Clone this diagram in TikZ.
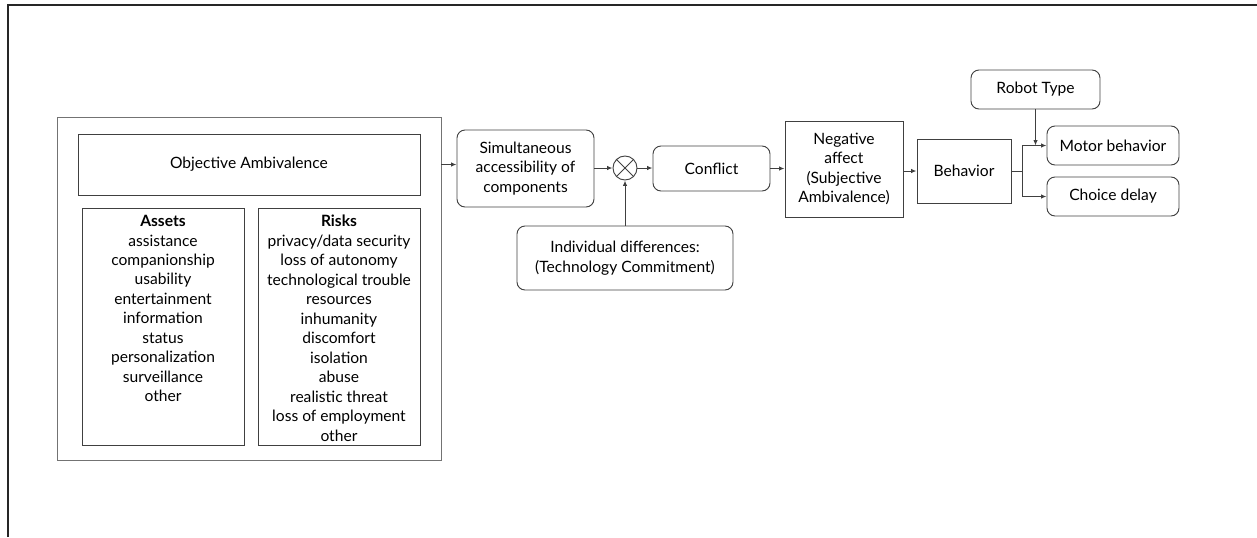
\documentclass[tikz,border=0pt]{standalone}
\usepackage{fontspec}
\setmainfont{Lato}
\usetikzlibrary{arrows.meta}
\definecolor{ln}{HTML}{404040}
\tikzset{
  base/.style={draw=ln, line width=0.7pt, inner sep=0pt, align=center,
    font=\fontsize{11.7}{14.6}\selectfont, text=black},
  sqbox/.style={base},
  rbox/.style={base, rounded corners=6pt},
  arr/.style={draw=ln, line width=0.7pt, -{Latex[length=4pt,width=3.2pt]}},
  txt/.style={inner sep=0pt, align=center, font=\fontsize{11.7}{14.6}\selectfont}
}
\begin{document}
\begin{tikzpicture}[x=0.75pt, y=-0.75pt]
\useasboundingbox (0,0) rectangle (1257,537);
% outer frame (top and left only)
\draw[line width=1.4pt, black!85] (8,537) -- (8,5) -- (1257,5);

% left container
\node[sqbox, draw=black!55, minimum width={384*0.75pt}, minimum height={343*0.75pt}] (cont) at (249,288.5) {};
\node[sqbox, minimum width={342*0.75pt}, minimum height={61*0.75pt}] (obj) at (249,164.5) {Objective Ambivalence};
\node[sqbox, minimum width={162*0.75pt}, minimum height={237*0.75pt}] (assets) at (163,326.5) {};
\node[sqbox, minimum width={162*0.75pt}, minimum height={237*0.75pt}] (risks) at (339,326.5) {};
\node[txt, anchor=north] (assetstxt) at (163,215) {\textbf{Assets}\\assistance\\companionship\\usability\\entertainment\\information\\status\\personalization\\surveillance\\other};
\node[txt, anchor=north] (riskstxt) at (339,215) {\textbf{Risks}\\privacy/data security\\loss of autonomy\\technological trouble\\resources\\inhumanity\\discomfort\\isolation\\abuse\\realistic threat\\loss of employment\\other};

% process chain
\node[rbox, minimum width={137*0.75pt}, minimum height={77*0.75pt}] (sim) at (525.5,168.5) {Simultaneous\\accessibility of\\components};
\node[draw=ln, line width=0.7pt, circle, inner sep=0pt, minimum size={24*0.75pt}] (circ) at (625,168) {};
\draw[ln, line width=0.6pt] (circ.north east) -- (circ.south west) (circ.north west) -- (circ.south east);
\node[rbox, minimum width={117*0.75pt}, minimum height={45*0.75pt}] (conf) at (711.5,168.5) {Conflict};
\node[sqbox, minimum width={118*0.75pt}, minimum height={96*0.75pt}] (neg) at (844,169) {Negative\\affect\\(Subjective\\Ambivalence)};
\node[sqbox, minimum width={94*0.75pt}, minimum height={64*0.75pt}] (beh) at (964,171) {Behavior};
\node[rbox, minimum width={132*0.75pt}, minimum height={39*0.75pt}] (motor) at (1113,145.5) {Motor behavior};
\node[rbox, minimum width={132*0.75pt}, minimum height={39*0.75pt}] (choice) at (1113,196.5) {Choice delay};
\node[rbox, minimum width={129*0.75pt}, minimum height={39*0.75pt}] (robot) at (1035.5,89.5) {Robot Type};
\node[rbox, minimum width={216*0.75pt}, minimum height={64*0.75pt}] (ind) at (625,258) {Individual differences:\\(Technology Commitment)};

% connectors
\draw[arr] (cont.east |- obj.east) -- (sim.west |- obj.east);
\draw[arr] (sim.east |- circ.west) -- (circ.west);
\draw[arr] (circ.east) -- (conf.west |- circ.east);
\draw[arr] (conf.east) -- (neg.west |- conf.east);
\draw[arr] (neg.east |- beh.west) -- (beh.west);
\coordinate (br) at (1022,171);
\draw[draw=ln, line width=0.7pt] (beh.east) -- (br);
\draw[arr] (br) |- (motor.west);
\draw[arr] (br) |- (choice.west);
\draw[arr] (robot.south) -- (robot.south |- motor.west);
\draw[arr] (ind.north -| circ.south) -- (circ.south);
\end{tikzpicture}
\end{document}
